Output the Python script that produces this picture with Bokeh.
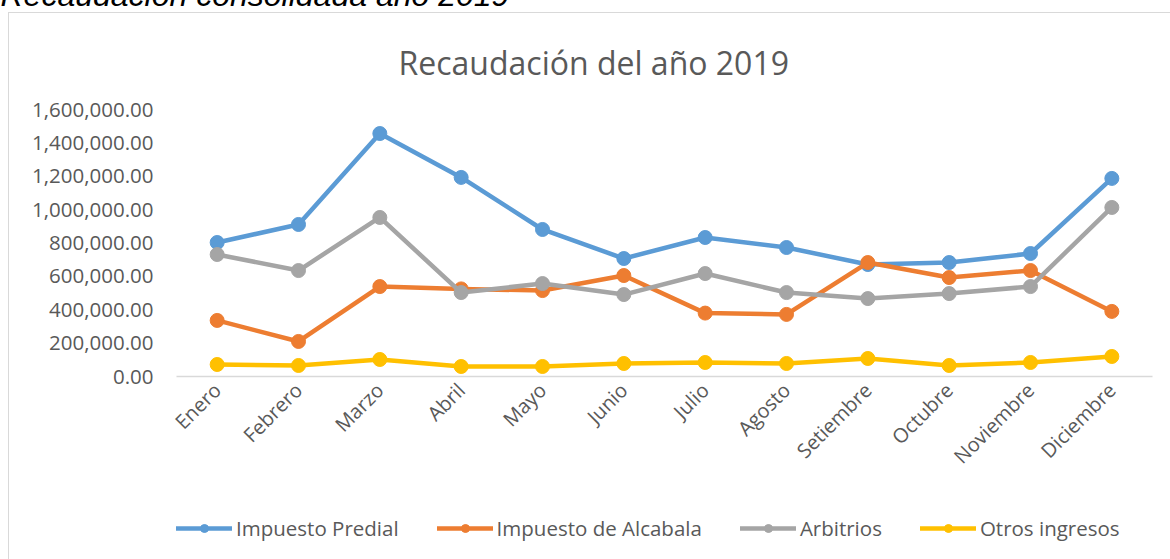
from math import pi
from bokeh.plotting import figure
from bokeh.layouts import column
from bokeh.models import (Range1d, FactorRange, NumeralTickFormatter, SingleIntervalTicker,
                          Legend, LegendItem, Title)
from bokeh.embed import file_html
from bokeh.resources import INLINE

meses = ["Enero", "Febrero", "Marzo", "Abril", "Mayo", "Junio", "Julio", "Agosto",
         "Setiembre", "Octubre", "Noviembre", "Diciembre"]
predial = [803000, 911000, 1456000, 1193000, 881000, 707000, 833000, 773000,
           671000, 683000, 737000, 1187000]
alcabala = [336000, 210000, 539000, 525000, 515000, 605000, 380000, 372000,
            683000, 593000, 635000, 390000]
arbitrios = [731000, 635000, 953000, 503000, 557000, 491000, 617000, 503000,
             467000, 497000, 539000, 1013000]
otros = [72000, 66000, 102000, 60000, 60000, 78000, 84000, 78000,
         108000, 66000, 84000, 120000]

series_names = ["Impuesto Predial", "Impuesto de Alcabala", "Arbitrios", "Otros ingresos"]
series_vals = [predial, alcabala, arbitrios, otros]
series_colors = ["#5B9BD5", "#ED7D31", "#A5A5A5", "#FFC000"]

FONT = "Open Sans"
GREY = "#595959"
SHIFT = 28
TOP_H = 500  # visible height of the main chart panel

# ---------------- main chart ----------------
p = figure(x_range=FactorRange(*meses), y_range=Range1d(0, 1600000),
           width=1170, height=TOP_H + SHIFT, output_backend="svg", toolbar_location=None,
           min_border_left=176, min_border_right=18, min_border_top=109 + SHIFT,
           min_border_bottom=TOP_H - 376, outline_line_color=None,
           background_fill_color="white", border_fill_alpha=0)
p.styles = {
    "margin-top": f"-{SHIFT}px",
    "background-color": "white",
    "background-image": "linear-gradient(#D9D9D9, #D9D9D9), linear-gradient(#D9D9D9, #D9D9D9)",
    "background-size": "1px 100%, 100% 1px",
    "background-position": f"8px {12 + SHIFT}px, 8px {12 + SHIFT}px",
    "background-repeat": "no-repeat",
}

main_title = Title(text="Recaudación del año 2019", align="left", offset=222, standoff=52,
                   text_font=FONT, text_font_size="32px", text_font_style="normal",
                   text_color=GREY)
p.add_layout(main_title, "above")
caption = Title(text="Recaudación consolidada año 2019", align="left", offset=-176,
                standoff=0, text_font="Liberation Sans", text_font_size="32px",
                text_font_style="italic", text_color="black")
p.add_layout(caption, "above")

p.xgrid.grid_line_color = None
p.ygrid.grid_line_color = None

p.yaxis.ticker = SingleIntervalTicker(interval=200000)
p.yaxis.formatter = NumeralTickFormatter(format="0,0.00")
p.yaxis.axis_line_color = None
p.yaxis.major_tick_line_color = None
p.yaxis.minor_tick_line_color = None
p.yaxis.major_tick_out = 0
p.yaxis.major_label_standoff = 19
p.yaxis.major_label_text_font = FONT
p.yaxis.major_label_text_font_size = "20.5px"
p.yaxis.major_label_text_color = GREY

p.xaxis.axis_line_color = "#D9D9D9"
p.xaxis.axis_line_width = 1.5
p.xaxis.major_tick_line_color = None
p.xaxis.major_tick_out = 0
p.xaxis.major_label_orientation = pi / 4
p.xaxis.major_label_standoff = 10
p.xaxis.major_label_text_font = FONT
p.xaxis.major_label_text_font_size = "20px"
p.xaxis.major_label_text_color = GREY

for vals, col in zip(series_vals, series_colors):
    p.line(meses, vals, line_width=4.5, color=col, line_cap="round", line_join="round")
    p.scatter(meses, vals, size=14, color=col)

# ---------------- legend strip ----------------
# Same series drawn off-range (invisible) so the legend has real glyph renderers.
p2 = figure(x_range=FactorRange(*meses), y_range=Range1d(-2, -1),
            width=1170, height=559 - TOP_H, output_backend="svg", toolbar_location=None,
            x_axis_type=None, y_axis_type=None, min_border=0,
            min_border_left=0, min_border_right=0, min_border_top=0, min_border_bottom=0,
            outline_line_color=None, background_fill_alpha=0, border_fill_alpha=0)
p2.styles = {
    "background-color": "white",
    "background-image": "linear-gradient(#D9D9D9, #D9D9D9)",
    "background-size": "1px 100%",
    "background-position": "8px 0px",
    "background-repeat": "no-repeat",
}

items = []
for name, vals, col in zip(series_names, series_vals, series_colors):
    l = p2.line(meses, vals, line_width=4.5, color=col, line_cap="round")
    s = p2.scatter(meses, vals, size=14, color=col)
    items.append(LegendItem(label=name, renderers=[l, s]))

legend = Legend(items=items, orientation="horizontal", location=(0, 17),
                glyph_width=56, glyph_height=20, label_standoff=4, spacing=38,
                padding=0, margin=0, border_line_color=None, background_fill_alpha=0,
                label_text_font=FONT, label_text_font_size="20.5px",
                label_text_color=GREY, label_height=20)
p2.add_layout(legend)

layout = column(p, p2, spacing=0)
open("out.html", "w").write(file_html(layout, INLINE))
